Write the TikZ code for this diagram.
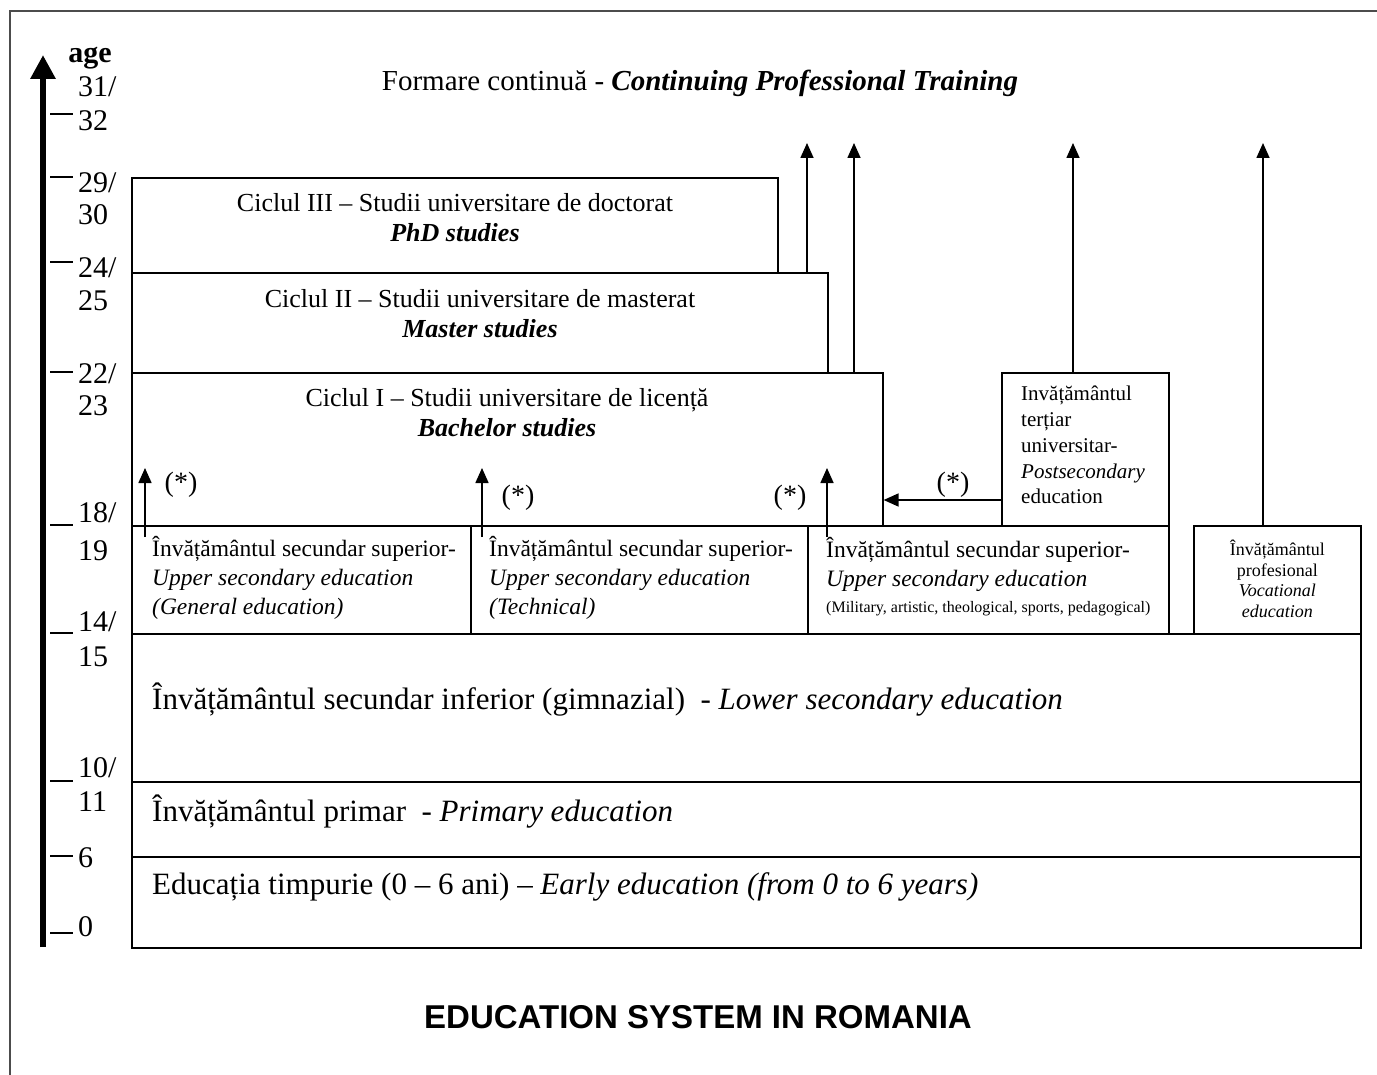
\documentclass[tikz,border=0pt]{standalone}
\usepackage{fontspec}
\setmainfont{Liberation Serif}
\newfontfamily\titlefont{Liberation Sans}
\usetikzlibrary{arrows.meta,positioning}

\tikzset{
  box/.style={draw, line width=1.6pt, anchor=north west, inner sep=0pt},
  arr/.style={-{Triangle[length=15pt,width=13pt]}, line width=1.6pt},
  agetick/.style={line width=1.6pt},
  agelbl/.style={anchor=west, inner sep=0pt, font=\fontsize{30}{30}\selectfont},
  txt/.style={inner sep=0pt, align=center, font=\fontsize{26}{30}\selectfont},
  lefttxt/.style={inner sep=0pt, anchor=west, align=left},
  star/.style={inner sep=0pt, font=\fontsize{28}{28}\selectfont},
}

\begin{document}
\begin{tikzpicture}[x=1pt, y=-1pt]
\useasboundingbox (0,0) rectangle (1377,1075);
% frame
\draw[line width=2pt, black!70] (10,1075) -- (10,11) -- (1377,11);

% age axis
\coordinate (axbot) at (43,947);
\coordinate (axtop) at (43,55);
\draw[line width=6.5pt, -{Triangle[length=24pt,width=24pt]}] (axbot) -- (axtop);
\foreach \y in {114,177,262,372,525,633,781,856,933}
  \draw[agetick] (50,\y) -- (73,\y);
\node[inner sep=0pt, font=\bfseries\fontsize{30}{30}\selectfont] (age) at (90,58) {age};
\foreach \ya/\a/\yb/\b in {87/31/121/32, 183/29/215/30, 268/24/301/25, 374/22/406/23,
                           513/18/551/19, 622/14/657/15, 768/10/802/11} {
  \node[agelbl] (a\a) at (78,\ya) {\a/};
  \node[agelbl] (b\b) at (78,\yb) {\b};
}
\node[agelbl] (a6) at (78,858) {6};
\node[agelbl] (a0) at (78,927) {0};

% boxes
\node[box, minimum width=646pt, minimum height=95pt] (phd) at (131,177) {};
\node[box, minimum width=696pt, minimum height=100pt] (master) at (131,272) {};
\node[box, minimum width=751pt, minimum height=153pt] (bach) at (131,372) {};
\node[box, minimum width=167pt, minimum height=153pt] (post) at (1001,372) {};
\node[box, minimum width=339pt, minimum height=108pt] (general) at (131,525) {};
\node[box, minimum width=337pt, minimum height=108pt] (technical) at (470,525) {};
\node[box, minimum width=361pt, minimum height=108pt] (military) at (807,525) {};
\node[box, minimum width=167pt, minimum height=108pt] (vocational) at (1193,525) {};
\node[box, minimum width=1229pt, minimum height=148pt] (lower) at (131,633) {};
\node[box, minimum width=1229pt, minimum height=75pt] (primary) at (131,781) {};
\node[box, minimum width=1229pt, minimum height=91pt] (early) at (131,856) {};

% texts
\node[txt, font=\fontsize{29}{29}\selectfont] (cpt) at (700,83)
  {Formare continuă - \textbf{\textit{Continuing Professional Training}}};
\node[txt] (phdtxt) at (455,218)
  {Ciclul III -- Studii universitare de doctorat\\\textbf{\textit{PhD studies}}};
\node[txt] (mastertxt) at (480,314)
  {Ciclul II -- Studii universitare de masterat\\\textbf{\textit{Master studies}}};
\node[txt] (bachtxt) at (507,413)
  {Ciclul I -- Studii universitare de licență\\\textbf{\textit{Bachelor studies}}};

\node[lefttxt, font=\fontsize{23.5}{29}\selectfont] (gentxt) at (152,578)
  {Învățământul secundar superior-\\\textit{Upper secondary education}\\\textit{(General education)}};
\node[lefttxt, font=\fontsize{23.5}{29}\selectfont] (techtxt) at (489,578)
  {Învățământul secundar superior-\\\textit{Upper secondary education}\\\textit{(Technical)}};
\node[lefttxt, font=\fontsize{23.5}{29}\selectfont] (miltxt) at (826,577)
  {Învățământul secundar superior-\\\textit{Upper secondary education}\\[-3pt]
   {\fontsize{16}{16}\selectfont (Military, artistic, theological, sports, pedagogical)}};
\node[lefttxt, font=\fontsize{21}{25.8}\selectfont] (posttxt) at (1021,445)
  {Invățământul\\terțiar\\universitar-\\\textit{Postsecondary}\\education};
\node[txt, font=\fontsize{18}{20.5}\selectfont] (voctxt) at (vocational.center |- 0,579)
  {Învățământul\\profesional\\\textit{Vocational}\\\textit{education}};

\node[lefttxt, font=\fontsize{31}{31}\selectfont] (lowertxt) at (152,700)
  {Învățământul secundar inferior (gimnazial) \ - \textit{Lower secondary education}};
\node[lefttxt, font=\fontsize{31}{31}\selectfont] (primarytxt) at (152,812)
  {Învățământul primar \ - \textit{Primary education}};
\node[lefttxt, font=\fontsize{31}{31}\selectfont] (earlytxt) at (152,887)
  {Educația timpurie (0 -- 6 ani) -- \textit{Early education (from 0 to 6 years)}};

\node[inner sep=0pt, font=\titlefont\bfseries\fontsize{33}{33}\selectfont] (title) at (698,1017)
  {EDUCATION SYSTEM IN ROMANIA};

% arrows to continuing training
\coordinate (up1) at (807,143);
\coordinate (up2) at (854,143);
\coordinate (up3) at (1073,143);
\coordinate (up4) at (1263,143);
\draw[arr] (up1 |- master.north) -- (up1);
\draw[arr] (up2 |- bach.north) -- (up2);
\draw[arr] (up3 |- post.north) -- (up3);
\draw[arr] (up4 |- vocational.north) -- (up4);

% arrows into bachelor studies
\coordinate (in1) at (145,468);
\coordinate (in2) at (482,468);
\coordinate (in3) at (827,468);
\draw[arr] ([yshift=-12pt]in1 |- general.north) -- (in1);
\draw[arr] ([yshift=-12pt]in2 |- technical.north) -- (in2);
\draw[arr] ([yshift=-12pt]in3 |- military.north) -- (in3);
\coordinate (h) at (0,500);
\draw[arr] (post.west |- h) -- (bach.east |- h);

\node[star] (s1) at (181,485) {(*)};
\node[star] (s2) at (518,498) {(*)};
\node[star] (s3) at (790,498) {(*)};
\node[star] (s4) at (953,485) {(*)};
\end{tikzpicture}
\end{document}
